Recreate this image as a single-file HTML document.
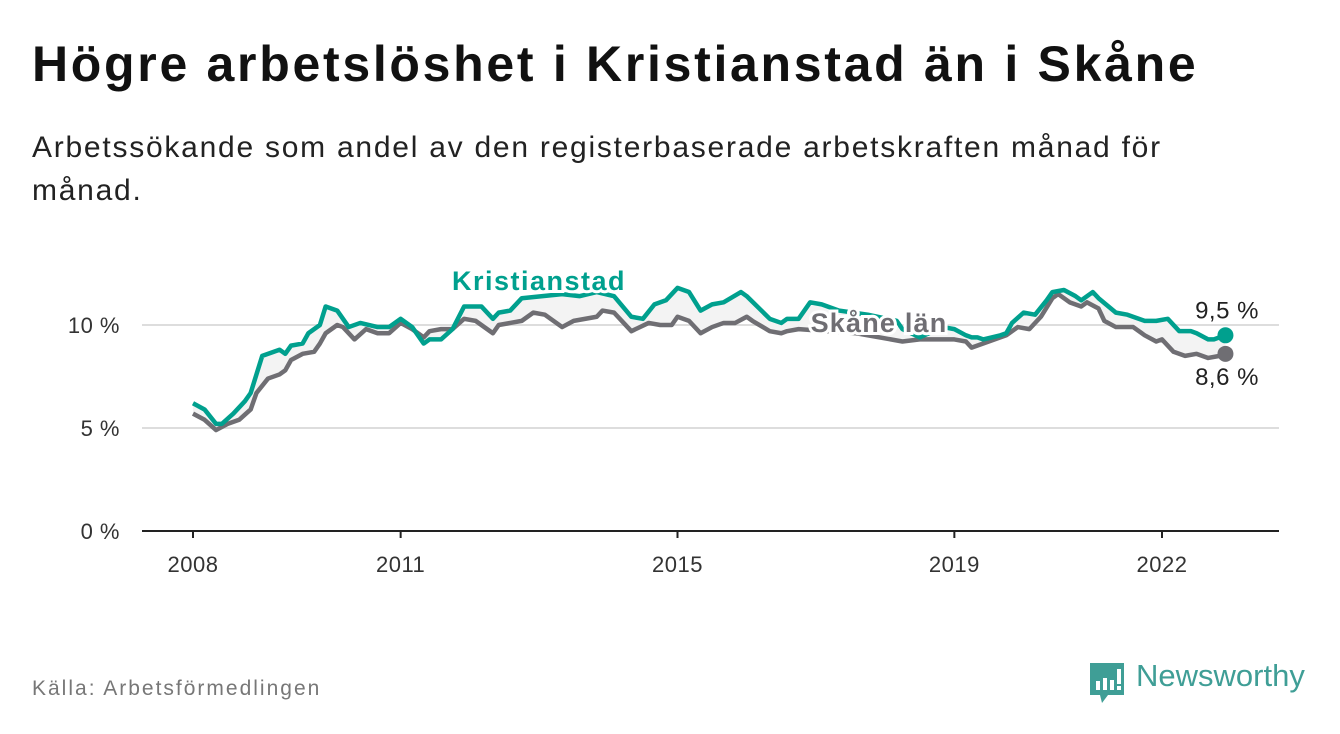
<!DOCTYPE html>
<html><head><meta charset="utf-8"><style>
body{margin:0;width:1340px;height:734px;background:#fff;font-family:"Liberation Sans","DejaVu Sans",sans-serif;overflow:hidden;position:relative}
h1{position:absolute;left:32px;top:36px;margin:0;font-size:50px;line-height:56px;font-weight:bold;color:#111;letter-spacing:2.7px;white-space:nowrap}
.sub{position:absolute;left:32px;top:126px;width:1200px;font-size:30px;line-height:43px;color:#222;letter-spacing:1.75px}
.src{position:absolute;left:32px;top:677px;font-size:21px;color:#777;letter-spacing:2px}
svg{position:absolute;left:0;top:0}
</style></head><body>
<h1>Högre arbetslöshet i Kristianstad än i Skåne</h1>
<div class="sub">Arbetssökande som andel av den registerbaserade arbetskraften månad för månad.</div>
<div class="src">Källa: Arbetsförmedlingen</div>
<svg id="chart" width="1340" height="734"></svg>
<script>
const kMonths=[0,2,4,5,7,9,10,11,12,15,16,17,19,20,22,23,25,27,29,32,34,36,38,40,41,43,45,47,50,52,53,55,57,64,67,70,73,76,78,80,82,84,86,88,90,92,95,96,100,102,103,105,107,109,112,117,122,123,126,130,132,134,135,136,137,140,141,142,144,146,148,149,151,153,154,156,157,160,162,165,167,169,171,173,174,176,177,179];
const kValues=[6.2,5.9,5.2,5.2,5.7,6.3,6.7,7.6,8.5,8.8,8.6,9.0,9.1,9.6,10.0,10.9,10.7,9.9,10.1,9.9,9.9,10.3,9.9,9.1,9.3,9.3,9.8,10.9,10.9,10.3,10.6,10.7,11.3,11.5,11.4,11.6,11.4,10.4,10.3,11.0,11.2,11.8,11.6,10.7,11.0,11.1,11.6,11.4,10.3,10.1,10.3,10.3,11.1,11.0,10.7,10.5,10.2,9.8,9.4,9.9,9.8,9.5,9.4,9.4,9.3,9.5,9.6,10.1,10.6,10.5,11.2,11.6,11.7,11.4,11.2,11.6,11.3,10.6,10.5,10.2,10.2,10.3,9.7,9.7,9.6,9.3,9.3,9.5];
const sMonths=[0,2,4,6,8,10,11,13,15,16,17,19,21,22,23,25,26,28,30,32,34,36,38,40,41,43,45,47,49,52,53,55,57,59,61,62,64,66,70,71,73,76,79,81,83,84,86,88,90,92,94,96,97,100,102,103,105,115,123,126,129,132,134,135,137,139,141,143,145,147,149,150,152,154,155,157,158,160,163,165,167,168,170,172,174,176,178,179];
const sValues=[5.7,5.4,4.9,5.2,5.4,5.9,6.7,7.4,7.6,7.8,8.3,8.6,8.7,9.1,9.6,10.0,9.9,9.3,9.8,9.6,9.6,10.1,9.8,9.4,9.7,9.8,9.8,10.3,10.2,9.6,10.0,10.1,10.2,10.6,10.5,10.3,9.9,10.2,10.4,10.7,10.6,9.7,10.1,10.0,10.0,10.4,10.2,9.6,9.9,10.1,10.1,10.4,10.2,9.7,9.6,9.7,9.8,9.6,9.2,9.3,9.3,9.3,9.2,8.9,9.1,9.3,9.5,9.9,9.8,10.4,11.3,11.5,11.1,10.9,11.1,10.8,10.2,9.9,9.9,9.5,9.2,9.3,8.7,8.5,8.6,8.4,8.5,8.6];
const yTicks=[0,5,10];
const yTickLabels=["0 %","5 %","10 %"];
const xTicks=[2008,2011,2015,2019,2022];
const NS="http://www.w3.org/2000/svg";
const svg=document.getElementById('chart');
const X=m=>193+m*(1162-193)/168;
const Xy=yr=>X((yr-2008)*12);
const Y=v=>531-v*20.6;
function el(t,a){const e=document.createElementNS(NS,t);for(const k in a)e.setAttribute(k,a[k]);svg.appendChild(e);return e;}
yTicks.forEach((v,i)=>{
  if(v>0){const g=el('line',{x1:142,x2:1279,y1:Y(v),y2:Y(v),stroke:'#ddd','stroke-width':2});
  
  }
  const t=el('text',{x:120,y:Y(v)+8,'text-anchor':'end','font-size':22,fill:'#333','letter-spacing':0.5});
  t.textContent=yTickLabels[i];
  
  
});
const ax=el('line',{x1:142,x2:1279,y1:531,y2:531,stroke:'#222','stroke-width':2});


xTicks.forEach(yr=>{
  const tk=el('line',{x1:Xy(yr),x2:Xy(yr),y1:531,y2:538,stroke:'#222','stroke-width':2});
  
  
  const t=el('text',{x:Xy(yr),y:572,'text-anchor':'middle','font-size':22,fill:'#333','letter-spacing':0.5});
  t.textContent=yr;
  
  
});
const kp=kMonths.map((m,i)=>[X(m),Y(kValues[i])]);
const sp=sMonths.map((m,i)=>[X(m),Y(sValues[i])]);
const area=el('polygon',{points:kp.concat(sp.slice().reverse()).map(p=>p.join(',')).join(' '),fill:'#f3f3f3'});


const sl=el('polyline',{points:sp.map(p=>p.join(',')).join(' '),fill:'none',stroke:'#6f6e73','stroke-width':4.5,'stroke-linejoin':'round'});


const kl=el('polyline',{points:kp.map(p=>p.join(',')).join(' '),fill:'none',stroke:'#00a08e','stroke-width':4.5,'stroke-linejoin':'round'});


const kd=el('circle',{cx:kp[kp.length-1][0],cy:kp[kp.length-1][1],r:8,fill:'#00a08e'});


const sd=el('circle',{cx:sp[sp.length-1][0],cy:sp[sp.length-1][1],r:8,fill:'#6f6e73'});


const kv=el('text',{x:1227,y:kp[kp.length-1][1]-17,'text-anchor':'middle','font-size':24,fill:'#222','letter-spacing':0.5});
kv.textContent=kValues[kValues.length-1].toFixed(1).replace('.',',')+' %';


const sv=el('text',{x:1227,y:sp[sp.length-1][1]+31,'text-anchor':'middle','font-size':24,fill:'#222','letter-spacing':0.5});
sv.textContent=sValues[sValues.length-1].toFixed(1).replace('.',',')+' %';


const kL=el('text',{x:539,y:290,'text-anchor':'middle','font-size':27,'font-weight':'bold',fill:'#00a08e',stroke:'#fff','stroke-width':6,'paint-order':'stroke','letter-spacing':1.5});
kL.textContent='Kristianstad';


const sL=el('text',{x:879,y:332,'text-anchor':'middle','font-size':27,'font-weight':'bold',fill:'#6f6e73',stroke:'#fff','stroke-width':6,'paint-order':'stroke','letter-spacing':1.2});
sL.textContent='Skåne län';


</script>
<svg width="40" height="46" style="left:1088px;top:661px">
<path d="M2 2h34v32H20l-6 8-2-8H2z" fill="#3f9e96"/>
<rect x="8" y="20" width="4" height="9" fill="#fff"/><rect x="15" y="17" width="4" height="12" fill="#fff"/><rect x="22" y="19" width="4" height="10" fill="#fff"/><rect x="29" y="8" width="4" height="15" fill="#fff"/><rect x="29" y="25" width="4" height="4" fill="#fff"/>
</svg>
<div style="position:absolute;left:1136px;top:658px;font-size:31px;color:#3f9e96;font-weight:500">Newsworthy</div>
</body></html>
